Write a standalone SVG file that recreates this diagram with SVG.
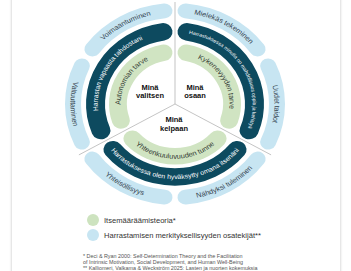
<svg xmlns="http://www.w3.org/2000/svg" width="351" height="271" viewBox="0 0 351 271">
<defs>
<filter id="sh" x="-10%" y="-10%" width="120%" height="120%"><feGaussianBlur stdDeviation="1.6"/></filter>
<path id="pVoim" d="M -93.50 34.03 A 99.5 99.5 0 0 1 76.22 -63.96"/>
<path id="pMiel" d="M -76.22 -63.96 A 99.5 99.5 0 0 1 93.50 34.03"/>
<path id="pUud" d="M 17.27 -97.99 A 99.5 99.5 0 0 1 17.27 97.99"/>
<path id="pValt" d="M -18.14 -102.91 A 104.5 104.5 0 0 0 -18.14 102.91"/>
<path id="pYhts" d="M -98.20 -35.74 A 104.5 104.5 0 0 0 80.05 67.17"/>
<path id="pNahd" d="M -80.05 67.17 A 104.5 104.5 0 0 0 98.20 -35.74"/>
<path id="pNUL" d="M -49.62 59.14 A 77.2 77.2 0 0 1 26.40 -72.54"/>
<path id="pNUR" d="M -26.57 -73.01 A 77.7 77.7 0 0 1 49.95 59.52"/>
<path id="pNB" d="M -80.56 14.20 A 81.8 81.8 0 0 0 80.56 14.20"/>
<path id="pGUL" d="M -35.03 41.75 A 54.5 54.5 0 0 1 18.64 -51.21"/>
<path id="pGUR" d="M -18.64 -51.21 A 54.5 54.5 0 0 1 35.03 41.75"/>
<path id="pGB" d="M -58.60 10.33 A 59.5 59.5 0 0 0 58.60 10.33"/>
</defs>
<style>
.blue{fill:none;stroke:#c7e5f2;stroke-width:16;stroke-linecap:round}
.navy{fill:none;stroke:#0d4a5f;stroke-width:19;stroke-linecap:round}
.green{fill:none;stroke:#d0e4c2;stroke-width:18;stroke-linecap:round}
text{font-family:"Liberation Sans",Arial,sans-serif}
.tb{font-size:7.5px;fill:#34434f}
.tn{font-size:7px;fill:#ffffff}
.tg{font-size:7.5px;fill:#333a33}
.mid{text-anchor:middle}
.c{font-size:7.5px;font-weight:bold;fill:#111111;text-anchor:middle}
.leg{font-size:7.6px;fill:#333333}
.fn{font-size:5.4px;fill:#555555}
.div{stroke:#ababab;stroke-width:0.7;fill:none}
</style>
<rect x="0" y="0" width="351" height="271" fill="#ffffff"/>
<rect x="12" y="-20" width="328" height="320" fill="#bdbdbd" filter="url(#sh)"/>
<rect x="12" y="-20" width="328" height="320" fill="#ffffff"/>

<g transform="translate(175,104) scale(1,0.918)">
  <g id="voimaantuminen"><path class="blue" d="M -82.61 -59.82 A 102 102 0 0 1 -10.50 -101.46"/><text class="tb mid"><textPath href="#pVoim" startOffset="50%">Voimaantuminen</textPath></text></g>
  <g id="mielekas"><path class="blue" d="M 10.50 -101.46 A 102 102 0 0 1 82.61 -59.82"/><text class="tb mid"><textPath href="#pMiel" startOffset="50%">Mielekäs tekeminen</textPath></text></g>
  <g id="uudet"><path class="blue" d="M 93.12 -41.64 A 102 102 0 0 1 93.12 41.64"/><text class="tb mid"><textPath href="#pUud" startOffset="50%">Uudet taidot</textPath></text></g>
  <g id="nahdyksi"><path class="blue" d="M 82.61 59.82 A 102 102 0 0 1 10.50 101.46"/><text class="tb mid"><textPath href="#pNahd" startOffset="50%">Nähdyksi tuleminen</textPath></text></g>
  <g id="yhteisollisyys"><path class="blue" d="M -10.50 101.46 A 102 102 0 0 1 -82.61 59.82"/><text class="tb mid"><textPath href="#pYhts" startOffset="50%">Yhteisöllisyys</textPath></text></g>
  <g id="valtuuttaminen"><path class="blue" d="M -93.12 41.64 A 102 102 0 0 1 -93.12 -41.64"/><text class="tb mid"><textPath href="#pValt" startOffset="50%">Valtuuttaminen</textPath></text></g>

  <g id="navy-valitsen"><path class="navy" d="M -74.06 28.91 A 79.5 79.5 0 0 1 -12.00 -78.59"/><text class="tn mid"><textPath href="#pNUL" startOffset="50%">Harrastan vapaasta tahdostani</textPath></text></g>
  <g id="navy-osaan"><path class="navy" d="M 12.00 -78.59 A 79.5 79.5 0 0 1 74.06 28.91"/><text class="tn mid" style="font-size:5.3px"><textPath href="#pNUR" startOffset="50%">Harrastuksessa minulla on mahdollisuus oppia ja kehittyä</textPath></text></g>
  <g id="navy-kelpaan"><path class="navy" d="M 62.06 49.69 A 79.5 79.5 0 0 1 -62.06 49.69"/><text class="tn mid"><textPath href="#pNB" startOffset="50%">Harrastuksessa olen hyväksytty omana itsenäni</textPath></text></g>

  <g id="autonomia"><path class="green" d="M -54.10 17.96 A 57 57 0 0 1 -11.50 -55.83"/><text class="tg mid"><textPath href="#pGUL" startOffset="50%">Autonomian tarve</textPath></text></g>
  <g id="kykenevyys"><path class="green" d="M 11.50 -55.83 A 57 57 0 0 1 54.10 17.96"/><text class="tg mid"><textPath href="#pGUR" startOffset="50%">Kykenevyyden tarve</textPath></text></g>
  <g id="yhteenkuuluvuus"><path class="green" d="M 42.60 37.88 A 57 57 0 0 1 -42.60 37.88"/><text class="tg mid"><textPath href="#pGB" startOffset="50%">Yhteenkuuluvuuden tunne</textPath></text></g>
</g>

<g id="connectors">
  <line class="div" x1="175" y1="104" x2="175" y2="2"/>
  <line class="div" x1="175" y1="104" x2="78.9" y2="154.9"/>
  <line class="div" x1="175" y1="104" x2="271.1" y2="154.9"/>
</g>

<g id="mina-valitsen"><text class="c" x="150" y="89.5">Minä</text><text class="c" x="150" y="97.5">valitsen</text></g>
<g id="mina-osaan"><text class="c" x="195" y="89.5">Minä</text><text class="c" x="195" y="97.5">osaan</text></g>
<g id="mina-kelpaan"><text class="c" x="174" y="122">Minä</text><text class="c" x="174" y="130.5">kelpaan</text></g>

<g id="legend">
  <circle cx="93" cy="220" r="6" fill="#cde3bf"/>
  <text class="leg" x="104" y="222.6">Itsemääräämisteoria*</text>
  <circle cx="93" cy="235" r="6" fill="#c7e5f2"/>
  <text class="leg" x="104" y="237.6">Harrastamisen merkityksellisyyden osatekijät**</text>
</g>
<g id="footnotes">
  <text class="fn" x="83" y="257.5">* Deci &amp; Ryan 2000: Self-Determination Theory and the Facilitation</text>
  <text class="fn" x="83" y="263.5">of Intrinsic Motivation, Social Development, and Human Well-Being</text>
  <text class="fn" x="83" y="269.5">** Kalliomeri, Valkama &amp; Weckström 2025: Lasten ja nuorten kokemuksia</text>
</g>
</svg>
